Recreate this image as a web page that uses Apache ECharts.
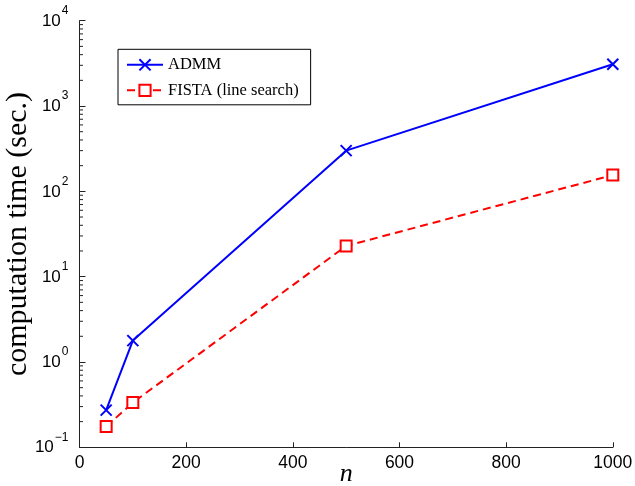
<!DOCTYPE html>
<html>
<head>
<meta charset="utf-8">
<script src="https://cdn.jsdelivr.net/npm/echarts@6/dist/echarts.min.js"></script>
<style>
  html, body { margin: 0; padding: 0; background: #fff; }
  #chart { width: 635px; height: 486px; }
</style>
</head>
<body>
<div id="chart"></div>
<script>
// Problem size n
const sizes = [50, 100, 500, 1000];
// Computation time in seconds
const admmTimes = [0.273, 1.78, 300, 3090];
const fistaTimes = [0.175, 0.334, 22.9, 155];
const seriesNames = ['ADMM', 'FISTA (line search)'];
const xTicks = [0, 200, 400, 600, 800, 1000];
const yDecades = [-1, 0, 1, 2, 3, 4];

// Minor log ticks (2..9 times each decade)
const minorTicks = [];
for (let d = yDecades[0]; d < yDecades[yDecades.length - 1]; d++) {
  for (let m = 2; m <= 9; m++) minorTicks.push(m * Math.pow(10, d));
}

const serif = '"Liberation Serif", "Times New Roman", serif';
const sans = '"Liberation Sans", Arial, Helvetica, sans-serif';
const axisColor = '#222';

const chart = echarts.init(document.getElementById('chart'), null, { renderer: 'canvas' });

chart.setOption({
  animation: false,
  backgroundColor: '#fff',
  grid: { left: 79.5, right: 22.2, top: 20.7, bottom: 38.7, outerBoundsMode: 'none' },
  legend: {
    orient: 'vertical',
    left: 118, top: 49.3,
    padding: [7, 12, 6, 8],
    itemWidth: 36, itemHeight: 14, itemGap: 8.5, itemTextGap: 5,
    borderColor: '#000', borderWidth: 1, backgroundColor: '#fff',
    textStyle: { fontFamily: serif, fontSize: 16.5, color: '#000' },
    data: seriesNames
  },
  xAxis: {
    type: 'value', min: xTicks[0], max: xTicks[xTicks.length - 1], interval: 200,
    name: 'n', nameLocation: 'middle', nameGap: 14, nameMoveOverlap: false,
    nameTextStyle: { fontFamily: serif, fontStyle: 'italic', fontSize: 26, color: '#000' },
    axisLine: { show: true, lineStyle: { color: axisColor, width: 1 } },
    axisTick: { show: true, inside: true, length: 5, lineStyle: { color: axisColor } },
    axisLabel: {
      margin: 7, fontFamily: sans, fontSize: 17.5, color: '#000',
      formatter: function (v) { return String(v); }
    },
    splitLine: { show: false }
  },
  yAxis: {
    type: 'log', logBase: 10,
    min: Math.pow(10, yDecades[0]), max: Math.pow(10, yDecades[yDecades.length - 1]),
    name: 'computation time (sec.)', nameLocation: 'middle', nameGap: 46, nameMoveOverlap: false,
    nameTextStyle: { fontFamily: serif, fontSize: 30, color: '#000' },
    axisLine: { show: true, lineStyle: { color: axisColor, width: 1 } },
    axisTick: { show: true, inside: true, length: 6, lineStyle: { color: axisColor } },
    axisLabel: {
      margin: 11,
      formatter: function (v) {
        const e = Math.round(Math.log10(v));
        return '{b|10}{e|' + (e < 0 ? '\u2212' + (-e) : e) + '}';
      },
      rich: {
        b: { fontFamily: sans, fontSize: 17, lineHeight: 18, color: '#000', verticalAlign: 'bottom', padding: [0, 1, 0, 0] },
        e: { fontFamily: sans, fontSize: 12, lineHeight: 12, color: '#000', verticalAlign: 'bottom', padding: [0, 0, 13, 0] }
      }
    },
    splitLine: { show: false }
  },
  series: [
    {
      name: seriesNames[0], type: 'line',
      data: sizes.map((n, i) => [n, admmTimes[i]]),
      color: '#0000ff',
      symbol: 'path://M0,0L10,10M10,0L0,10', symbolSize: 11,
      itemStyle: { color: '#0000ff', borderColor: '#0000ff', borderWidth: 2 },
      lineStyle: { color: '#0000ff', width: 2 },
      z: 3
    },
    {
      name: seriesNames[1], type: 'line',
      data: sizes.map((n, i) => [n, fistaTimes[i]]),
      color: '#ff0000',
      symbol: 'emptyRect', symbolSize: 11,
      itemStyle: { color: '#ff0000', borderColor: '#ff0000', borderWidth: 2 },
      lineStyle: { color: '#ff0000', width: 2, type: [8, 5] },
      z: 3
    },
    {
      // log-spaced minor ticks on the y axis
      type: 'custom', silent: true, clip: false,
      data: minorTicks,
      encode: { y: 0 },
      renderItem: function (params, api) {
        const p = api.coord([0, api.value(0)]);
        return {
          type: 'line',
          shape: { x1: p[0], y1: p[1], x2: p[0] + 3.5, y2: p[1] },
          style: { stroke: axisColor, lineWidth: 1 }
        };
      },
      z: 1
    }
  ]
});
</script>
</body>
</html>
